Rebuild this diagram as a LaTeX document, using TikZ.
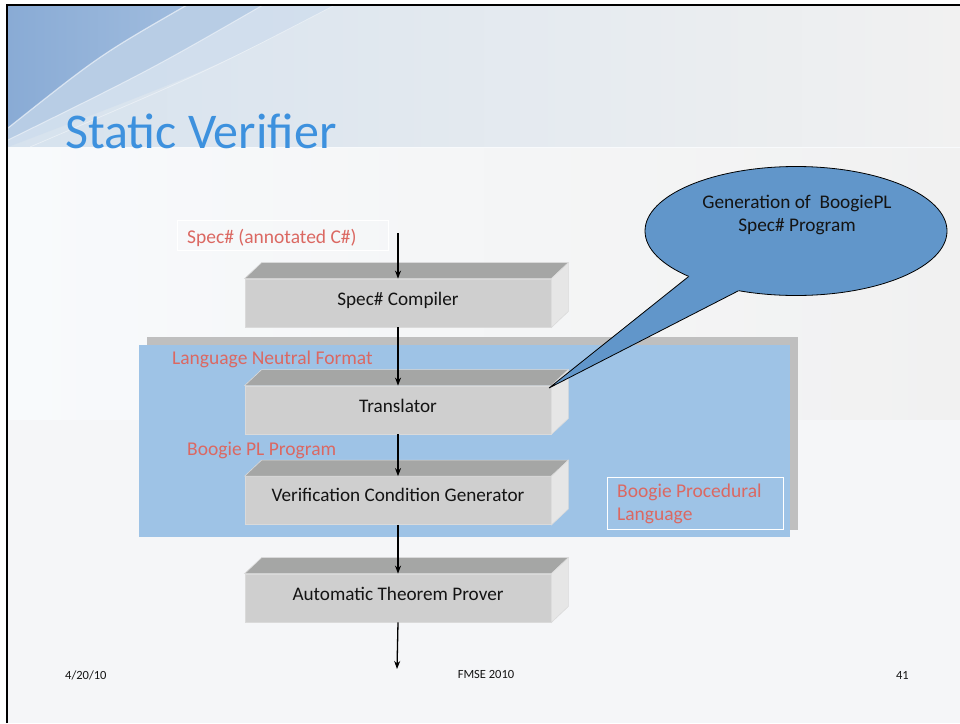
\documentclass[tikz,border=0pt]{standalone}
\usepackage{fontspec}
\setmainfont{Carlito}
\usetikzlibrary{arrows.meta,shapes.geometric}
\definecolor{bgbase}{RGB}{241,241,241}
\definecolor{bandL}{RGB}{214,226,238}
\definecolor{lowL}{RGB}{248,250,252}
\definecolor{swA}{RGB}{205,220,237}
\definecolor{swB}{RGB}{184,205,229}
\definecolor{swC}{RGB}{137,171,213}
\definecolor{swD}{RGB}{160,188,222}
\definecolor{titleblue}{RGB}{61,145,222}
\definecolor{redtxt}{RGB}{219,104,98}
\definecolor{panelblue}{RGB}{158,195,230}
\definecolor{panelgray}{RGB}{191,191,191}
\definecolor{frontc}{RGB}{207,207,207}
\definecolor{topc}{RGB}{165,166,165}
\definecolor{sidec}{RGB}{230,230,230}
\definecolor{edgec}{RGB}{218,218,218}
\definecolor{callblue}{RGB}{97,150,202}
\definecolor{txt}{RGB}{20,20,20}
\tikzset{
  frontface/.style={rectangle, fill=frontc, draw=edgec, line width=0.8pt, minimum width=306pt, minimum height=48pt, inner sep=0pt},
  boxtext/.style={font=\fontsize{19.2}{22}\selectfont, text=txt, inner sep=0pt},
  topface/.style={fill=topc, draw=edgec, line width=0.6pt},
  sideface/.style={fill=sidec, draw=edgec, line width=0.6pt},
  redlabel/.style={font=\fontsize{19.5}{22}\selectfont, text=redtxt, inner sep=0pt},
  footer/.style={font=\fontsize{12.5}{14}\selectfont, text=txt, inner sep=0pt},
  arr/.style={-{Stealth[length=8pt,width=6pt]}, line width=1.3pt, black},
}
\newcommand{\drawbox}[1]{%
  \path[topface] (#1.north west) -- ++(17pt,16pt) -- ([shift={(17pt,16pt)}]#1.north east) -- (#1.north east) -- cycle;
  \path[sideface] (#1.north east) -- ++(17pt,16pt) -- ([shift={(17pt,16pt)}]#1.south east) -- (#1.south east) -- cycle;
}
\begin{document}
\begin{tikzpicture}[x=1pt,y=-1pt]
\useasboundingbox (0,0) rectangle (960,723);
\fill[white] (0,0) rectangle (960,723);
\fill[bgbase] (8,5) rectangle (960,723);
% background bands
\shade[left color=bandL, right color=bgbase] (8,5) rectangle (960,147);
\shade[left color=lowL, right color=bgbase] (8,147) rectangle (960,420);
\fill[lowL!60!bgbase] (8,420) rectangle (960,723);
\fill[swA, opacity=0.7] (8,5) -- (335,5) .. controls (210,70) .. (8,147) -- cycle;
\fill[swB] (8,5) -- (263,5) .. controls (150,70) .. (8,140) -- cycle;
\shade[left color=swC, right color=swD] (8,5) -- (187,5) .. controls (100,55) .. (8,128) -- cycle;
\draw[white, opacity=0.6, line width=1.2pt] (187,5) .. controls (100,55) .. (8,128);
\draw[white, opacity=0.5, line width=1pt] (263,5) .. controls (150,70) .. (8,140);
\draw[white, opacity=0.4, line width=0.8pt] (335,5) .. controls (210,70) .. (30,147);
\fill[lowL] (8,147) rectangle (960,148);
% border
\draw[black, line width=2pt] (7,723) -- (7,5) -- (960,5);
% title
\node[anchor=base west, inner sep=0pt, font=\fontsize{50}{56}\selectfont, text=titleblue] (title) at (65,148) {Static Verifier};
% panels
\fill[panelgray] (147,337) rectangle (798,530);
\fill[panelblue] (139,345) rectangle (790,537);
% input label
\node[draw=white, line width=0.8pt, minimum width=211pt, minimum height=30pt, anchor=north west, inner sep=0pt] (inbox) at (177,220) {};
\node[redlabel, anchor=west] (inlabel) at (187,238) {Spec\# (annotated C\#)};
% boxes
\node[frontface] (comp) at (398,303) {};
\drawbox{comp}
\node[frontface] (trans) at (398,410) {};
\drawbox{trans}
\node[frontface] (vcg) at (398,500.5) {};
\drawbox{vcg}
\node[frontface] (atp) at (398,598) {};
\drawbox{atp}
\node[boxtext] (compt) at (398,300) {Spec\# Compiler};
\node[boxtext] (transt) at (398,406) {Translator};
\node[boxtext] (vcgt) at (398,495) {Verification Condition Generator};
\node[boxtext] (atpt) at (398,594) {Automatic Theorem Prover};
% red labels
\node[redlabel, anchor=west] (lnf) at (172,359) {Language Neutral Format};
\node[redlabel, anchor=west] (bpl) at (187,450) {Boogie PL Program};
\node[draw=white, line width=1pt, minimum width=176pt, minimum height=52pt, anchor=north west, inner sep=0pt] (bplbox) at (607,477) {};
\node[redlabel, anchor=north west, align=left, font=\fontsize{19.5}{23}\selectfont] (bpltext) at (617,484) {Boogie Procedural\\Language};
% arrows
\coordinate (src) at (398,233);
\coordinate (sink) at (397,669);
\draw[arr] (src) -- (comp.north);
\draw[arr] (comp.south) -- (trans.north);
\draw[arr] (trans.south) -- (vcg.north);
\draw[arr] (vcg.south) -- (atp.north);
\draw[arr] (atp.south) -- (sink);
% callout
\node[ellipse, minimum width=302pt, minimum height=129pt, inner sep=0pt, fill=callblue, draw=black, line width=0.8pt] (callout) at (796,231) {};
\coordinate (tip) at (549,388);
\fill[callblue] (tip) -- (callout.203.5) -- ([shift={(6pt,3pt)}]callout.203.5) -- ([shift={(4pt,6pt)}]callout.226) -- (callout.226) -- cycle;
\draw[black, line width=0.8pt] (callout.203.5) -- (tip) -- (callout.226);
\node[align=center, font=\fontsize{19.3}{23}\selectfont, text=txt, inner sep=0pt] (calltext) at (797,215) {Generation of \ BoogiePL\\Spec\# Program};
% footer
\node[footer, anchor=west] (date) at (65,675) {4/20/10};
\node[footer] (conf) at (486,674) {FMSE 2010};
\node[footer, anchor=east] (page) at (909,675) {41};
\end{tikzpicture}
\end{document}
